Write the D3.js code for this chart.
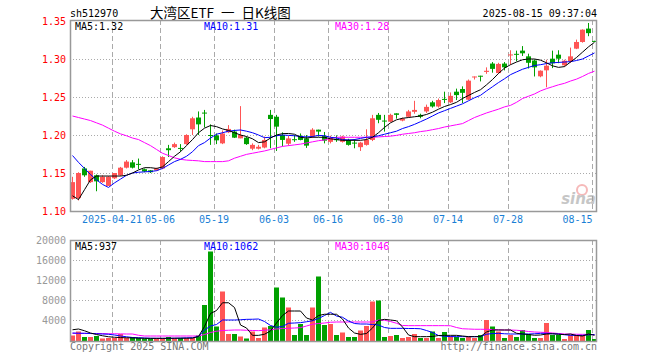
<!DOCTYPE html>
<html>
<head>
<meta charset="utf-8">
<script src="https://cdn.jsdelivr.net/npm/d3@7"></script>
<style>
  body { margin: 0; background: #fff; }
  text { font-family: "DejaVu Sans Mono", monospace; font-size: 10px; }
</style>
</head>
<body>
<div id="chart"></div>
<script>
"use strict";

// ---- data ----
var opens = [1.116,1.117,1.156,1.138,1.147,1.138,1.133,1.143,1.147,1.157,
  1.164,1.162,1.155,1.1535,1.1535,1.156,1.1825,1.184,1.183,1.188,
  1.2075,1.223,1.2295,1.200,1.1995,1.189,1.2035,1.2045,1.1956,1.1965,
  1.182,1.182,1.1835,1.2265,1.224,1.200,1.1885,1.1945,1.199,1.1955,
  1.198,1.207,1.1985,1.191,1.1945,1.191,1.1935,1.190,1.184,1.187,
  1.1935,1.2265,1.219,1.2175,1.2285,1.219,1.224,1.2305,1.2265,1.231,
  1.243,1.2375,1.2475,1.243,1.257,1.2605,1.2465,1.2765,1.278,1.283,
  1.294,1.2815,1.294,1.305,1.3068,1.311,1.3035,1.298,1.2772,1.2851,
  1.3004,1.3057,1.2917,1.297,1.3136,1.3224,1.340,1.3238];
var closes = [1.138,1.150,1.147,1.153,1.139,1.145,1.145,1.150,1.157,1.165,
  1.157,1.161,1.152,1.151,1.156,1.171,1.180,1.188,1.1825,1.200,
  1.222,1.214,1.229,1.1995,1.193,1.202,1.208,1.1965,1.200,1.188,
  1.187,1.1845,1.1935,1.221,1.211,1.1935,1.1955,1.194,1.1935,1.186,
  1.207,1.2045,1.1925,1.1965,1.194,1.198,1.187,1.1895,1.190,1.1935,
  1.222,1.220,1.218,1.2265,1.2265,1.2215,1.231,1.233,1.224,1.237,
  1.2375,1.246,1.247,1.2515,1.2525,1.2555,1.2715,1.277,1.2775,1.2845,
  1.287,1.2935,1.289,1.306,1.3062,1.3075,1.295,1.289,1.2846,1.2912,
  1.2943,1.3004,1.2978,1.3035,1.3224,1.3386,1.334,1.3235];
var highs = [1.145,1.151,1.158,1.153,1.148,1.147,1.146,1.150,1.158,1.167,
  1.167,1.169,1.156,1.154,1.157,1.172,1.187,1.190,1.188,1.201,
  1.224,1.231,1.233,1.214,1.202,1.206,1.213,1.207,1.238,1.198,
  1.189,1.187,1.198,1.233,1.2265,1.2035,1.199,1.200,1.202,1.200,
  1.209,1.207,1.204,1.199,1.1995,1.199,1.195,1.1945,1.191,1.2075,
  1.2265,1.229,1.2265,1.228,1.2285,1.223,1.233,1.245,1.228,1.240,
  1.245,1.248,1.257,1.256,1.261,1.264,1.273,1.277,1.278,1.289,
  1.296,1.295,1.296,1.3115,1.311,1.317,1.307,1.2995,1.285,1.299,
  1.311,1.3115,1.299,1.315,1.3255,1.339,1.3474,1.324];
var lows = [1.115,1.114,1.145,1.137,1.126,1.137,1.133,1.142,1.146,1.156,
  1.156,1.155,1.151,1.150,1.153,1.155,1.171,1.183,1.178,1.187,
  1.200,1.200,1.210,1.187,1.188,1.188,1.2025,1.196,1.1956,1.187,
  1.180,1.181,1.1825,1.1825,1.179,1.185,1.186,1.191,1.193,1.183,
  1.196,1.198,1.189,1.189,1.191,1.190,1.186,1.1825,1.179,1.186,
  1.192,1.2155,1.2045,1.217,1.2215,1.218,1.223,1.228,1.222,1.229,
  1.236,1.236,1.242,1.242,1.246,1.242,1.246,1.273,1.2705,1.2805,
  1.282,1.281,1.285,1.2925,1.297,1.304,1.2875,1.277,1.276,1.2628,
  1.288,1.2945,1.290,1.295,1.313,1.3215,1.330,1.323];

var ma5 = [1.120,1.115,1.128,1.141,1.146,1.146,1.146,1.146,1.146,1.147,
  1.150,1.154,1.157,1.157,1.156,1.158,1.165,1.172,1.178,1.186,
  1.194,1.203,1.209,1.2125,1.211,1.208,1.206,1.203,1.200,1.198,
  1.195,1.190,1.191,1.196,1.200,1.2018,1.202,1.201,1.197,1.196,
  1.197,1.197,1.197,1.195,1.194,1.193,1.193,1.193,1.193,1.194,
  1.197,1.203,1.210,1.216,1.220,1.222,1.223,1.224,1.225,1.227,
  1.230,1.234,1.2375,1.240,1.243,1.248,1.252,1.256,1.2596,1.266,
  1.273,1.281,1.288,1.2925,1.296,1.299,1.300,1.300,1.2985,1.295,
  1.291,1.289,1.290,1.296,1.302,1.309,1.316,1.322];
var ma10 = [1.173,1.164,1.156,1.148,1.141,1.135,1.131,1.137,1.142,1.147,
  1.150,1.151,1.1515,1.152,1.153,1.156,1.1605,1.165,1.168,1.172,
  1.178,1.186,1.190,1.196,1.201,1.203,1.205,1.206,1.2066,1.205,
  1.203,1.200,1.1965,1.197,1.199,1.200,1.1995,1.199,1.198,1.1975,
  1.198,1.1995,1.199,1.197,1.196,1.194,1.1935,1.194,1.1955,1.197,
  1.1975,1.199,1.201,1.203,1.205,1.2085,1.211,1.214,1.2175,1.221,
  1.225,1.229,1.232,1.235,1.238,1.241,1.245,1.249,1.2522,1.258,
  1.2635,1.269,1.274,1.2794,1.283,1.2865,1.289,1.2915,1.2925,1.294,
  1.295,1.2955,1.296,1.2965,1.298,1.300,1.304,1.308];
var ma30 = [1.225,1.223,1.221,1.219,1.216,1.213,1.209,1.205,1.2015,1.199,
  1.196,1.194,1.190,1.186,1.181,1.176,1.173,1.170,1.168,1.167,
  1.1665,1.166,1.165,1.165,1.165,1.165,1.166,1.1695,1.172,1.1745,
  1.176,1.1775,1.179,1.181,1.183,1.185,1.186,1.187,1.188,1.1895,
  1.191,1.1925,1.1935,1.1955,1.197,1.197,1.197,1.197,1.197,1.197,
  1.197,1.1975,1.198,1.1985,1.1995,1.201,1.202,1.203,1.2045,1.2055,
  1.207,1.2085,1.2105,1.212,1.2135,1.215,1.219,1.223,1.226,1.229,
  1.2315,1.234,1.237,1.239,1.243,1.248,1.251,1.254,1.258,1.261,
  1.2635,1.266,1.268,1.271,1.2735,1.277,1.281,1.284];

var volumes = [900,1700,600,600,800,300,400,400,1200,400,
  600,400,300,300,400,400,600,400,400,400,
  400,900,7000,17700,2700,9700,1200,1200,700,300,
  1700,400,2500,2800,10500,8500,6500,1000,3200,1000,
  6500,12700,3000,3200,1000,1500,600,600,1900,2800,
  7700,7900,600,800,1000,400,600,1200,400,400,
  1700,400,1600,800,600,400,600,400,1000,4000,
  2700,1700,400,1000,600,2000,1200,400,400,3400,
  1000,1000,200,1000,1000,1000,2000,200];
var vma5 = [2050,2200,1850,1400,1100,850,650,550,480,450,
  420,380,340,330,330,330,340,360,360,360,
  380,700,2700,5300,5900,7450,7450,6500,3000,2400,
  930,930,1150,1800,3400,4900,5800,5800,5800,4400,
  4000,4900,5150,5150,5150,4200,2400,1400,1130,1300,
  2400,3900,4130,4000,3850,2600,1000,670,670,670,
  700,900,930,930,930,800,670,670,670,1600,
  2000,2000,2000,2000,1350,1200,1100,950,1000,1200,
  1250,1150,1100,1200,900,800,1200,940];
var vma10 = [1400,1350,1350,1300,1250,1200,1150,1000,800,650,
  500,450,400,350,340,330,330,350,380,430,
  460,700,2000,2800,3100,4000,4000,4000,4050,4130,
  4150,4200,3700,2900,2550,2700,3350,3400,3470,3650,
  3850,4300,4900,5530,4800,4550,3800,3300,3200,3200,
  3100,3000,2500,2330,2330,2330,2300,2300,2250,1900,
  1500,900,750,680,670,670,670,670,700,1150,
  1300,1330,1250,1200,1200,1200,1200,1250,1330,1330,
  1250,1200,1050,930,930,930,1050,1100];
var vma30 = [1330,1330,1320,1300,1300,1280,1250,1250,1220,1200,
  1200,950,800,800,800,800,800,800,800,800,
  800,800,1100,1500,1750,1900,1950,2000,2000,1950,
  1900,1870,1950,2050,2200,2300,2350,2400,2470,2800,
  3150,3300,3400,3550,3600,3600,3600,3600,3600,3600,
  3600,4000,3950,3700,3350,2900,2870,2870,2870,2870,
  2870,2870,2870,2850,2500,2250,2200,2150,2150,2130,
  2100,2050,2000,2000,1950,1850,1700,1600,1550,1500,
  1400,1300,1200,1180,1150,1130,1130,1050];

var dateIdx = [7, 15, 24, 34, 43, 53, 63, 73, 87];
var dateLabels = ["2025-04-21", "05-06", "05-19", "06-03", "06-16", "06-30", "07-14", "07-28", "08-15"];
var priceTicks = [1.10, 1.15, 1.20, 1.25, 1.30, 1.35];
var volTicks = [4000, 8000, 12000, 16000, 20000];

var RED = "#ff5555", GREEN = "#00a000", GRID = "#aaa", FRAME = "#999";

var W = 660, H = 360;
var left = 70, right = 597;
var pTop = 20, pBot = 211;
var vTop = 240, vBot = 341;

var svg = d3.select("#chart").append("svg")
    .attr("width", W)
    .attr("height", H);

var x = d3.scaleLinear().domain([0, opens.length - 1]).range([72, 594]);
var y = d3.scaleLinear().domain([1.10, 1.35]).range([211, 21]);
var yv = d3.scaleLinear().domain([0, 20000]).range([340, 240]);

// header
svg.append("text").attr("x", left).attr("y", 16.5).attr("fill", "#000").text("sh512970");
var title = svg.append("text").attr("x", 150).attr("y", 17.5)
    .style("font-family", "'Noto Sans CJK SC', sans-serif").style("font-size", "13.5px")
    .attr("fill", "#000");
title.append("tspan").text("大湾区ETF");
title.append("tspan").attr("dx", 7).text("一");
title.append("tspan").attr("dx", 7).text("日K线图");
svg.append("text").attr("x", right).attr("y", 16.5).attr("text-anchor", "end")
    .attr("fill", "#000").text("2025-08-15 09:37:04");

// ---- price panel ----
var pg = svg.append("g");

pg.append("g").attr("class", "hgrid")
    .selectAll("line").data(priceTicks.slice(1, -1)).join("line")
    .attr("x1", left).attr("x2", right)
    .attr("y1", function (d) { return Math.round(y(d)) + 0.5; })
    .attr("y2", function (d) { return Math.round(y(d)) + 0.5; })
    .attr("stroke", GRID).attr("stroke-dasharray", "1,2");

function vgrid(g, y0, y1) {
    g.selectAll("line.vg").data(dateIdx).join("line")
        .attr("class", "vg")
        .attr("x1", function (d) { return x(d) - 1.5; })
        .attr("x2", function (d) { return x(d) - 1.5; })
        .attr("y1", y0).attr("y2", y1)
        .attr("stroke", GRID).attr("stroke-dasharray", "5,3");
}
vgrid(pg, pTop, pBot);

// y labels
var yAxis = pg.append("g").attr("transform", "translate(" + left + ",0)")
    .call(d3.axisLeft(y).tickValues(priceTicks).tickFormat(d3.format(".2f")).tickSize(0).tickPadding(4));
yAxis.select(".domain").remove();
yAxis.selectAll("text").attr("fill", "#ff0000")
    .style("font-family", "'DejaVu Sans Mono', monospace").style("font-size", "10px");

// x labels
var xAxis = pg.append("g").attr("transform", "translate(0," + pBot + ")")
    .call(d3.axisBottom(x).tickValues(dateIdx)
        .tickFormat(function (d, i) { return dateLabels[i]; })
        .tickSize(0).tickPadding(5));
xAxis.select(".domain").remove();
xAxis.selectAll("text").attr("fill", "#1a7fd6")
    .style("font-family", "'DejaVu Sans Mono', monospace").style("font-size", "10px")
    .attr("dx", function (d, i) { return i === dateIdx.length - 1 ? -17 : -2.5; });

// sina watermark
var wm = pg.append("g").attr("opacity", 0.55);
wm.append("circle").attr("cx", 582).attr("cy", 190).attr("r", 5).attr("fill", "none")
    .attr("stroke", "#f08080").attr("stroke-width", 2);
wm.append("text").attr("x", 596).attr("y", 204).attr("text-anchor", "end")
    .style("font-family", "'DejaVu Sans', sans-serif").style("font-size", "15px")
    .style("font-style", "italic").style("font-weight", "bold")
    .attr("fill", "#999").text("sina");

var idx = d3.range(opens.length);
function isUp(i) { return closes[i] >= opens[i]; }

// candles
var cg = pg.append("g");
cg.selectAll("line").data(idx).join("line")
    .attr("x1", function (i) { return x(i) + 0.5; })
    .attr("x2", function (i) { return x(i) + 0.5; })
    .attr("y1", function (i) { return y(highs[i]); })
    .attr("y2", function (i) { return y(lows[i]); })
    .attr("stroke", function (i) { return isUp(i) ? RED : GREEN; })
    .attr("stroke-width", 1);
cg.selectAll("rect").data(idx).join("rect")
    .attr("x", function (i) { return x(i) - 2; })
    .attr("width", 5)
    .attr("y", function (i) { return y(Math.max(opens[i], closes[i])); })
    .attr("height", function (i) {
        return Math.max(1, Math.abs(y(opens[i]) - y(closes[i])));
    })
    .attr("fill", function (i) { return isUp(i) ? RED : GREEN; });

// MA lines
function maLine(scale) {
    return d3.line()
        .x(function (d, i) { return x(i) + 0.5; })
        .y(function (d) { return scale(d); });
}
[[ma30, "#ff00ff"], [ma10, "#0000ff"], [ma5, "#000"]].forEach(function (m) {
    pg.append("path").datum(m[0])
        .attr("d", maLine(y))
        .attr("fill", "none").attr("stroke", m[1]).attr("stroke-width", 1);
});

// frame
pg.append("rect").attr("x", left + 0.5).attr("y", pTop + 0.5)
    .attr("width", right - left - 1).attr("height", pBot - pTop)
    .attr("fill", "none").attr("stroke", FRAME).attr("stroke-width", 1.5);

pg.append("text").attr("x", 75).attr("y", 30).attr("fill", "#000").text("MA5:1.32");
pg.append("text").attr("x", 204).attr("y", 30).attr("fill", "#0000ff").text("MA10:1.31");
pg.append("text").attr("x", 335).attr("y", 30).attr("fill", "#ff00ff").text("MA30:1.28");

// ---- volume panel ----
var vg = svg.append("g");

vg.append("g").selectAll("line").data(volTicks.slice(0, -1)).join("line")
    .attr("x1", left).attr("x2", right)
    .attr("y1", function (d) { return yv(d) + 0.5; })
    .attr("y2", function (d) { return yv(d) + 0.5; })
    .attr("stroke", GRID).attr("stroke-dasharray", "1,2");
vgrid(vg, vTop, vBot);

var vAxis = vg.append("g").attr("transform", "translate(" + (left - 1) + ",0)")
    .call(d3.axisLeft(yv).tickValues(volTicks).tickFormat(d3.format("d")).tickSize(0).tickPadding(3));
vAxis.select(".domain").remove();
vAxis.selectAll("text").attr("fill", "#999")
    .style("font-family", "'DejaVu Sans Mono', monospace").style("font-size", "10px");

vg.append("g").selectAll("rect").data(idx).join("rect")
    .attr("x", function (i) { return x(i) - 2; })
    .attr("width", 5)
    .attr("y", function (i) { return yv(volumes[i]); })
    .attr("height", function (i) { return yv(0) - yv(volumes[i]) + 1; })
    .attr("fill", function (i) { return isUp(i) ? RED : GREEN; });

[[vma30, "#ff00ff"], [vma10, "#0000ff"], [vma5, "#000"]].forEach(function (m) {
    vg.append("path").datum(m[0])
        .attr("d", maLine(yv))
        .attr("fill", "none").attr("stroke", m[1]).attr("stroke-width", 1);
});

vg.append("rect").attr("x", left + 0.5).attr("y", vTop + 0.5)
    .attr("width", right - left - 1).attr("height", vBot - vTop)
    .attr("fill", "none").attr("stroke", FRAME).attr("stroke-width", 1.5);

vg.append("text").attr("x", 75).attr("y", 250).attr("fill", "#000").text("MA5:937");
vg.append("text").attr("x", 204).attr("y", 250).attr("fill", "#0000ff").text("MA10:1062");
vg.append("text").attr("x", 335).attr("y", 250).attr("fill", "#ff00ff").text("MA30:1046");

// footer
svg.append("text").attr("x", left).attr("y", 350).attr("fill", "#777").text("Copyright 2025 SINA.COM");
svg.append("text").attr("x", right).attr("y", 350).attr("text-anchor", "end")
    .attr("fill", "#777").text("http://finance.sina.com.cn");
</script>
</body>
</html>
